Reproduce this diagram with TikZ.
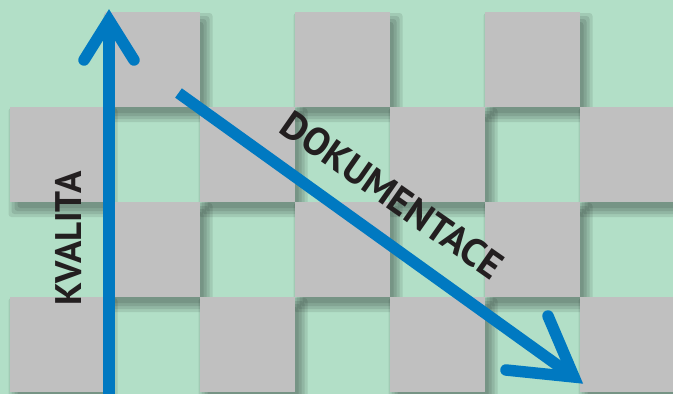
\documentclass[tikz,border=0pt]{standalone}
\usepackage{fontspec}
\setmainfont{PT Sans}
\definecolor{bggreen}{HTML}{B2DFC7}
\definecolor{sqgrey}{HTML}{C0C0C0}
\definecolor{arrowblue}{HTML}{0079C1}
\definecolor{txt}{HTML}{231F20}
\tikzset{
  arrowline/.style={draw=arrowblue, line width=11.5pt},
  headline/.style={draw=arrowblue, line width=11.5pt, line join=miter, line cap=round},
  labeltext/.style={text=txt, font=\bfseries\fontsize{37}{37}\selectfont, inner sep=0pt}
}
\begin{document}
\begin{tikzpicture}[x=1pt,y=-1pt]
\useasboundingbox (0,0) rectangle (673,394);
\clip (0,0) rectangle (673,394);
\fill[bggreen] (0,0) rectangle (673,394);
% shadows
\foreach \r in {0,...,3}{
  \foreach \c in {0,...,6}{
    \pgfmathtruncatemacro\odd{mod(\r+\c,2)}
    \ifnum\odd=1
      \foreach \b in {7,4,1,-2}{
        \fill[black, opacity=0.095, rounded corners=3pt] ({9.5+95*\c+6-\b},{12+95*\r+8-\b}) rectangle ++({95+2*\b},{95+2*\b});
      }
    \fi
  }
}
% squares
\foreach \r in {0,...,3}{
  \foreach \c in {0,...,6}{
    \pgfmathtruncatemacro\odd{mod(\r+\c,2)}
    \ifnum\odd=1
      \fill[sqgrey] ({9.5+95*\c},{12+95*\r}) rectangle ++(95,95);
    \fi
  }
}
% vertical arrow
\coordinate (vbot) at (109,398);
\coordinate (vtip) at (109,20);
\coordinate (vl) at (84,60);
\coordinate (vr) at (134,60);
\draw[arrowline] (vbot) -- (vtip);
\draw[headline] (vl) -- (vtip) -- (vr);
% diagonal arrow
\coordinate (dstart) at (178.5,93);
\coordinate (dtip) at (574,377);
\coordinate (da) at (548,316);
\coordinate (db) at (506,370);
\draw[arrowline] (dstart) -- (dtip);
\draw[headline] (da) -- (dtip) -- (db);
% labels
\node[labeltext, rotate=90] (kval) at (68.5,238.5) {KVALITA};
\node[labeltext, rotate=-35, font=\bfseries\fontsize{39}{39}\selectfont] (dok) at (392,195) {DOKUMENTACE};
\end{tikzpicture}
\end{document}
